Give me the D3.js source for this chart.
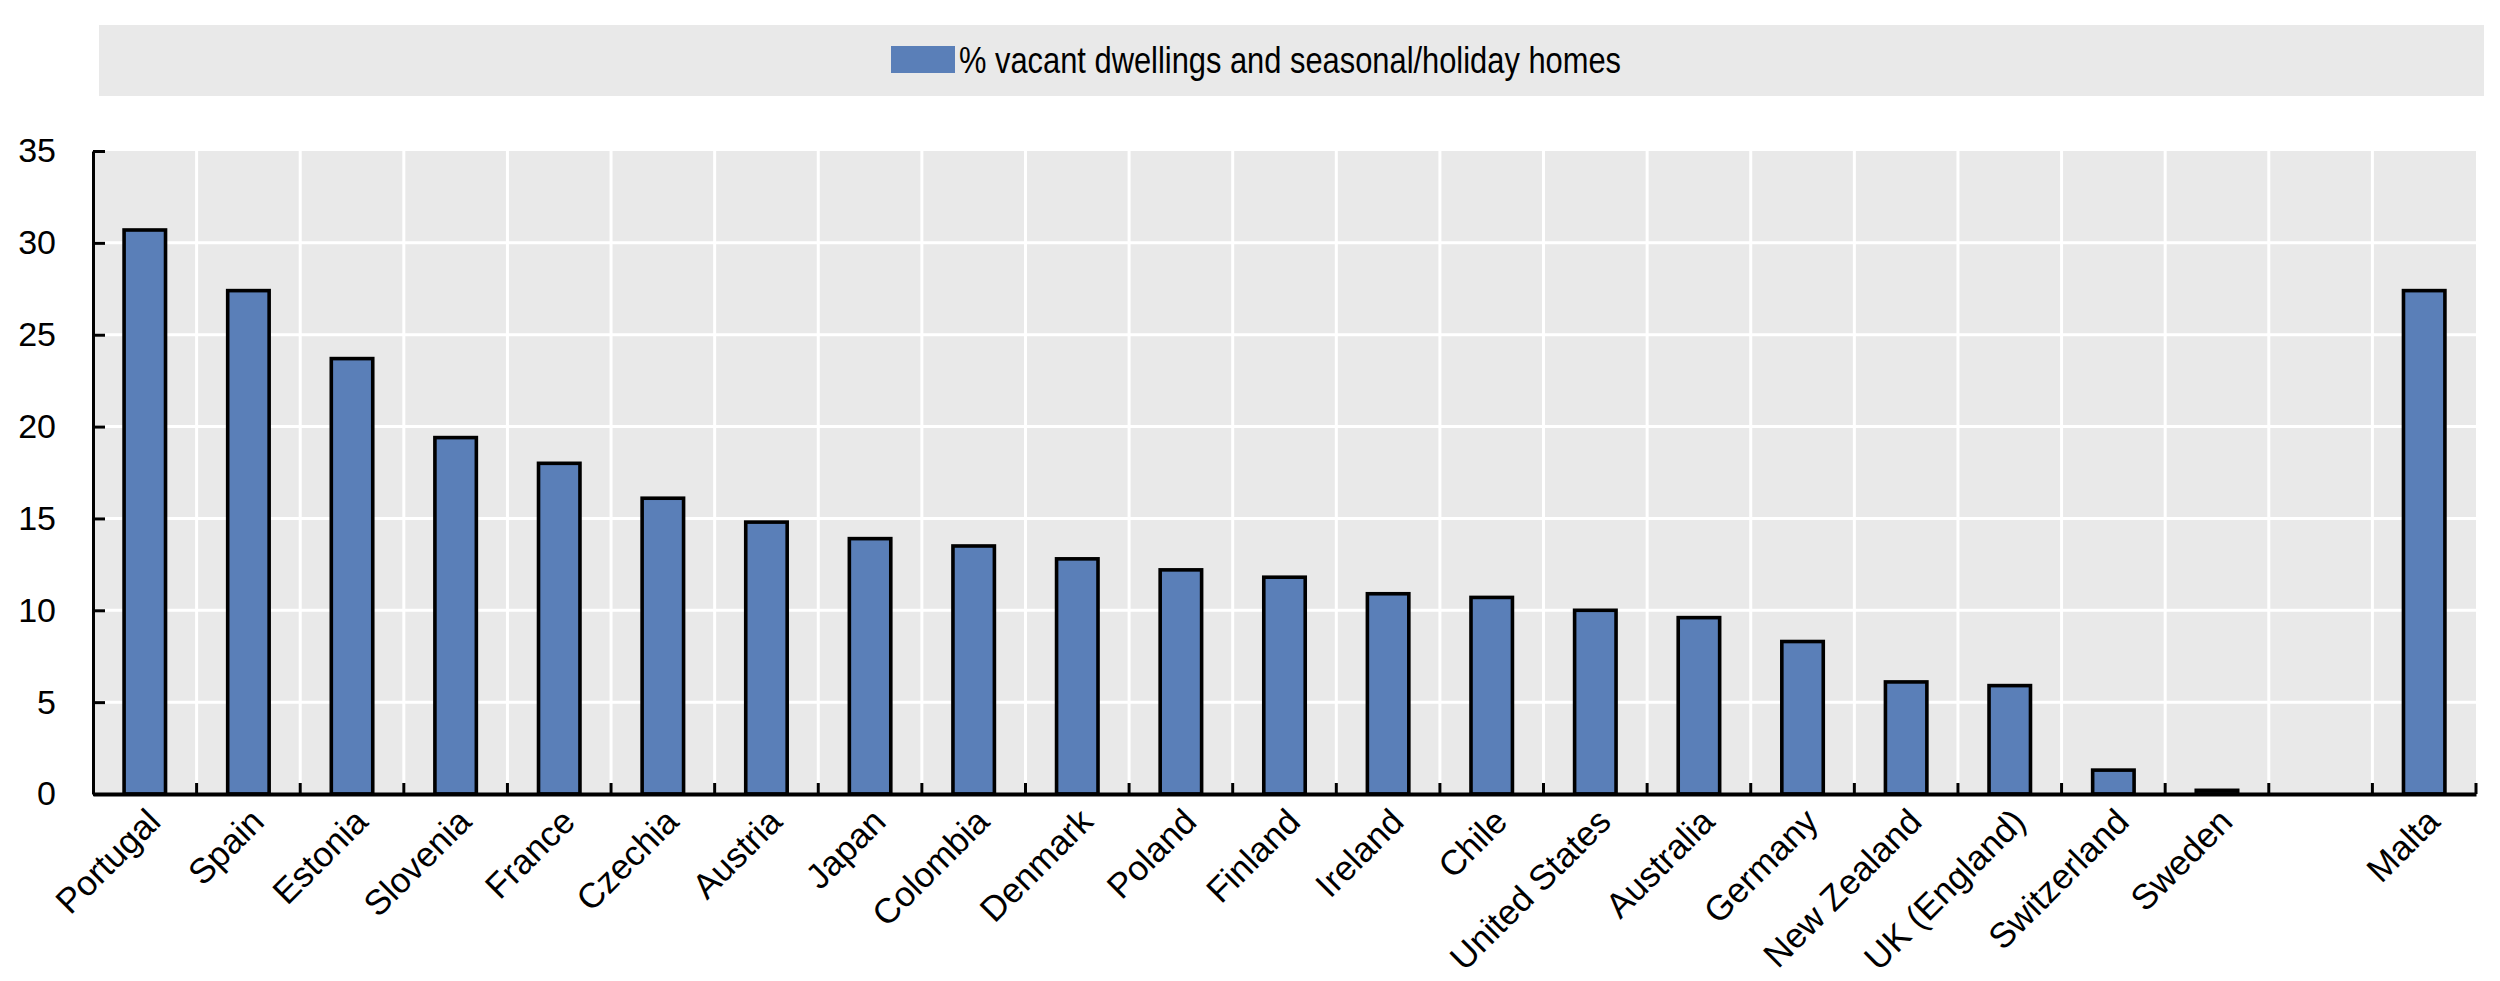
<!DOCTYPE html>
<html>
<head>
<meta charset="utf-8">
<script src="https://cdn.jsdelivr.net/npm/d3@7"></script>
<style>
  html, body { margin: 0; padding: 0; background: #ffffff; }
  svg { display: block; }
</style>
</head>
<body>
<svg id="chart" width="2500" height="981"></svg>
<script>
// ---- data ----
const countries = ["Portugal", "Spain", "Estonia", "Slovenia", "France", "Czechia", "Austria", "Japan",
  "Colombia", "Denmark", "Poland", "Finland", "Ireland", "Chile", "United States", "Australia",
  "Germany", "New Zealand", "UK (England)", "Switzerland", "Sweden", "Malta"];
const values = [30.7, 27.4, 23.7, 19.4, 18.0, 16.1, 14.8, 13.9,
  13.5, 12.8, 12.2, 11.8, 10.9, 10.7, 10.0, 9.6,
  8.3, 6.1, 5.9, 1.3, 0.2, 27.4];
const yTicks = [0, 5, 10, 15, 20, 25, 30, 35];
const seriesName = "% vacant dwellings and seasonal/holiday homes";

(function () {
// ---- layout ----
const GAP = "__gap__";
const slots = countries.slice(0, -1).concat([GAP, countries[countries.length - 1]]);
const pL = 93, pR = 2476, pT = 151, pB = 794;
const barColor = "#5a7fb8";
const plotBg = "#e9e9e9";

const svg = d3.select("#chart");
const x = d3.scaleBand().domain(slots).range([pL, pR]).paddingInner(0).paddingOuter(0);
const y = d3.scaleLinear().domain([0, 35]).range([pB, pT]);
const bw = x.bandwidth() * 0.4;

// legend
svg.append("rect").attr("x", 99).attr("y", 25).attr("width", 2385).attr("height", 71).attr("fill", plotBg);
svg.append("rect").attr("x", 891).attr("y", 46).attr("width", 64).attr("height", 27).attr("fill", barColor);
svg.append("text").attr("x", 959).attr("y", 73)
  .attr("font-family", "'Liberation Sans Narrow', 'Arial Narrow', 'Liberation Sans', Arial, sans-serif")
  .attr("font-size", 37).attr("fill", "#000")
  .attr("textLength", 662).attr("lengthAdjust", "spacingAndGlyphs")
  .text(seriesName);

// plot background
svg.append("rect").attr("x", pL).attr("y", pT).attr("width", pR - pL).attr("height", pB - pT).attr("fill", plotBg);

// horizontal gridlines
svg.append("g").selectAll("line").data(yTicks.filter(d => d > 0 && d < 35)).join("line")
  .attr("x1", pL).attr("x2", pR).attr("y1", d => y(d)).attr("y2", d => y(d))
  .attr("stroke", "#fff").attr("stroke-width", 3);

// vertical gridlines at band boundaries
const boundaries = slots.slice(1).map(s => x(s));
svg.append("g").selectAll("line").data(boundaries).join("line")
  .attr("x1", d => d).attr("x2", d => d).attr("y1", pT).attr("y2", pB)
  .attr("stroke", "#fff").attr("stroke-width", 3);

// bars
const data = countries.map((c, i) => ({ c, v: values[i] }));
svg.append("g").selectAll("rect").data(data).join("rect")
  .attr("x", d => x(d.c) + (x.bandwidth() - bw) / 2)
  .attr("y", d => y(d.v))
  .attr("width", bw)
  .attr("height", d => y(0) - y(d.v))
  .attr("fill", barColor).attr("stroke", "#000").attr("stroke-width", 3.6);

// x-axis boundary ticks (pointing up)
svg.append("g").selectAll("line").data(boundaries.concat([pR])).join("line")
  .attr("x1", d => d).attr("x2", d => d).attr("y1", pB).attr("y2", pB - 11)
  .attr("stroke", "#000").attr("stroke-width", 3);

// y axis
const yAxis = d3.axisLeft(y).tickValues(yTicks).tickSizeInner(-12).tickSizeOuter(0).tickPadding(37);
const gy = svg.append("g").attr("transform", `translate(${pL},0)`).call(yAxis);
gy.select(".domain").attr("stroke", "#000").attr("stroke-width", 3);
gy.selectAll(".tick line").attr("stroke", "#000").attr("stroke-width", 3);
gy.selectAll(".tick text").attr("font-family", "'Liberation Sans', Arial, sans-serif")
  .attr("font-size", 34).attr("fill", "#000");

// x axis
const xAxis = d3.axisBottom(x).tickSize(0).tickFormat(d => d === GAP ? "" : d);
const gx = svg.append("g").attr("transform", `translate(0,${pB})`).call(xAxis);
gx.select(".domain").attr("stroke", "#000").attr("stroke-width", 4);
gx.selectAll(".tick text")
  .attr("font-family", "'Liberation Sans', Arial, sans-serif")
  .attr("font-size", 35).attr("fill", "#000")
  .attr("text-anchor", "end")
  .attr("x", 0).attr("y", 0).attr("dy", "0.35em")
  .attr("transform", "translate(9,21) rotate(-45)");
})();
</script>
</body>
</html>
